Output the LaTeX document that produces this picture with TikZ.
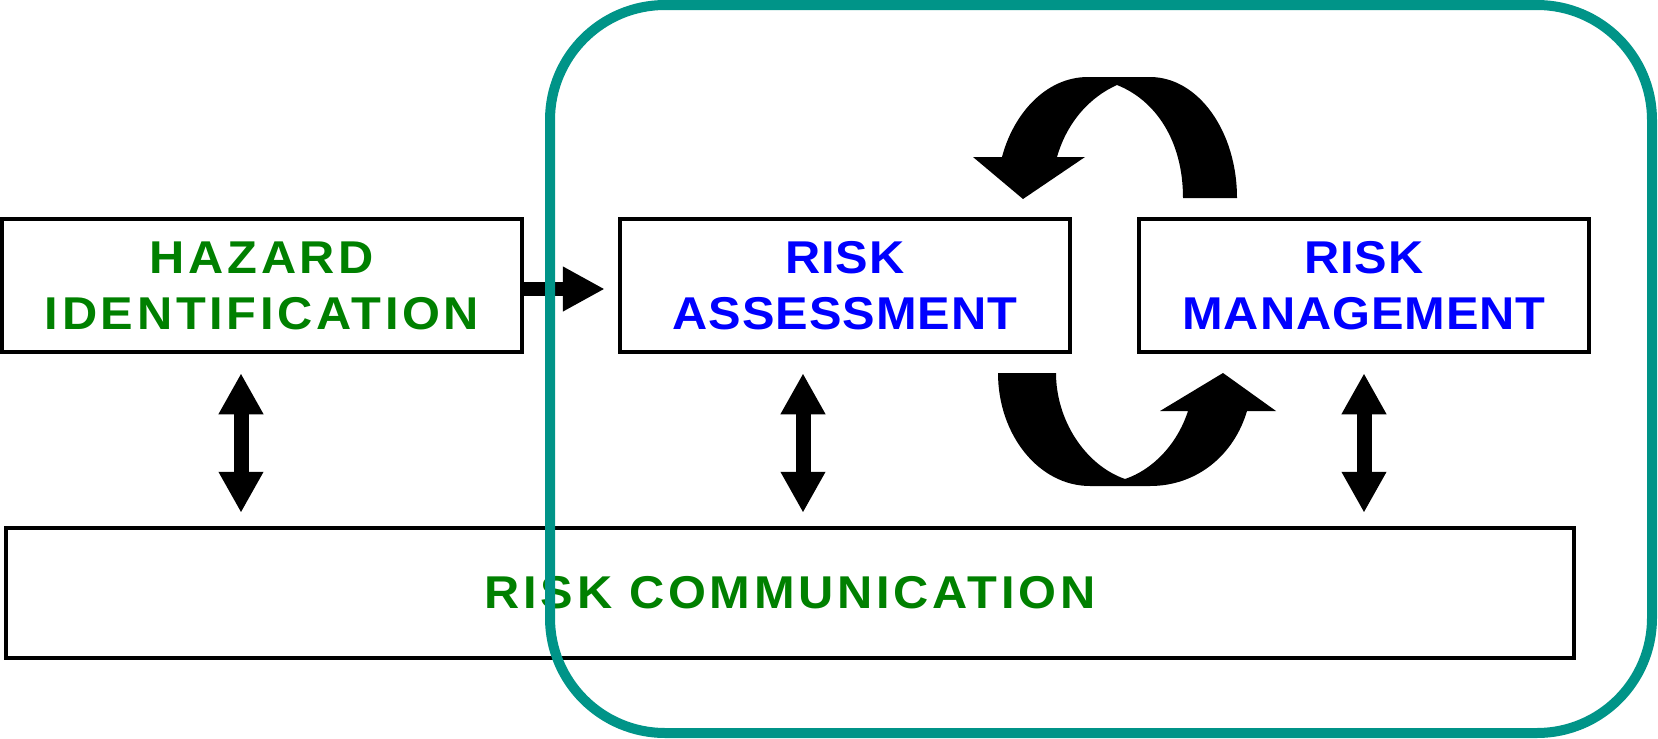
\documentclass[tikz,border=0pt]{standalone}
\usepackage{fontspec}
\setmainfont{Liberation Sans}
\newfontfamily\greenfont[LetterSpace=8,FakeStretch=1.06]{Liberation Sans}
\newfontfamily\bluefont[LetterSpace=2,FakeStretch=1.06]{Liberation Sans}
\usetikzlibrary{arrows.meta}

\definecolor{hazgreen}{RGB}{0,128,0}
\definecolor{riskblue}{RGB}{0,0,255}
\definecolor{frameteal}{RGB}{0,148,136}

\tikzset{
    stagebox/.style={draw, line width=3.5pt, minimum width=450pt, minimum height=133pt,
        inner sep=0pt, align=center},
    greentext/.style={text=hazgreen, font={\greenfont\bfseries\fontsize{46}{56}\selectfont}},
    bluetext/.style={text=riskblue, font={\bluefont\bfseries\fontsize{46}{56}\selectfont}},
    fatarrow/.style={line width=14pt, -{Triangle[length=42pt,width=42pt]}, shorten >=13.5pt},
    dblarrow/.style={line width=15pt, {Triangle[length=41pt,width=42pt]}-{Triangle[length=41pt,width=42pt]},
        shorten <=19.5pt, shorten >=13.5pt}
}

\begin{document}
\begin{tikzpicture}[x=1pt, y=-1pt]
    \useasboundingbox (0,0) rectangle (1658,739);

    % Hazard identification (left)
    \node[stagebox, greentext, minimum width=520pt] (haz) at (262,285.5) {HAZARD\\IDENTIFICATION};

    % Risk assessment (middle)
    \node[stagebox, bluetext] (ra) at (845,285.5) {RISK\\ASSESSMENT};

    % Risk management (right)
    \node[stagebox, bluetext] (rm) at (1364,285.5) {RISK\\MANAGEMENT};

    % Risk communication (bottom)
    \node[stagebox, greentext, minimum width=1568pt, minimum height=130pt] (rc) at (790,593) {RISK COMMUNICATION};

    % Arrows
    \draw[fatarrow] ([yshift=-3.5pt]haz.east) -- ([yshift=-3.5pt]ra.west);
    \draw[dblarrow] ([xshift=-21pt]haz.south) -- ([xshift=-21pt]haz.south |- rc.north);
    \draw[dblarrow] ([xshift=-42pt]ra.south) -- ([xshift=-42pt]ra.south |- rc.north);
    \draw[dblarrow] (rm.south) -- (rm.south |- rc.north);

    % Curved arrow, management back to assessment (top)
    \fill (1237,198) .. controls (1237,131) and (1198,77) .. (1150,77) -- (1088,77)
        .. controls (1045,77) and (1013,115) .. (1002,157) -- (973,157) -- (1023,199)
        -- (1085,157) -- (1057,157) .. controls (1067,122) and (1090,97) .. (1117,85)
        .. controls (1155,100) and (1183,140) .. (1183,198) -- cycle;

    % Curved arrow, assessment on to management (bottom)
    \fill (998,373) .. controls (998,435) and (1039,486) .. (1090,486) -- (1150,486)
        .. controls (1197,486) and (1234,455) .. (1247,411) -- (1276,411) -- (1223,373)
        -- (1160,411) -- (1188,411) .. controls (1177,445) and (1152,470) .. (1125,479)
        .. controls (1085,465) and (1056,420) .. (1056,373) -- cycle;

    % Frame round assessment and management
    \draw[frameteal, line width=10pt, rounded corners=115pt] (550,5) rectangle (1652,733);
\end{tikzpicture}
\end{document}
